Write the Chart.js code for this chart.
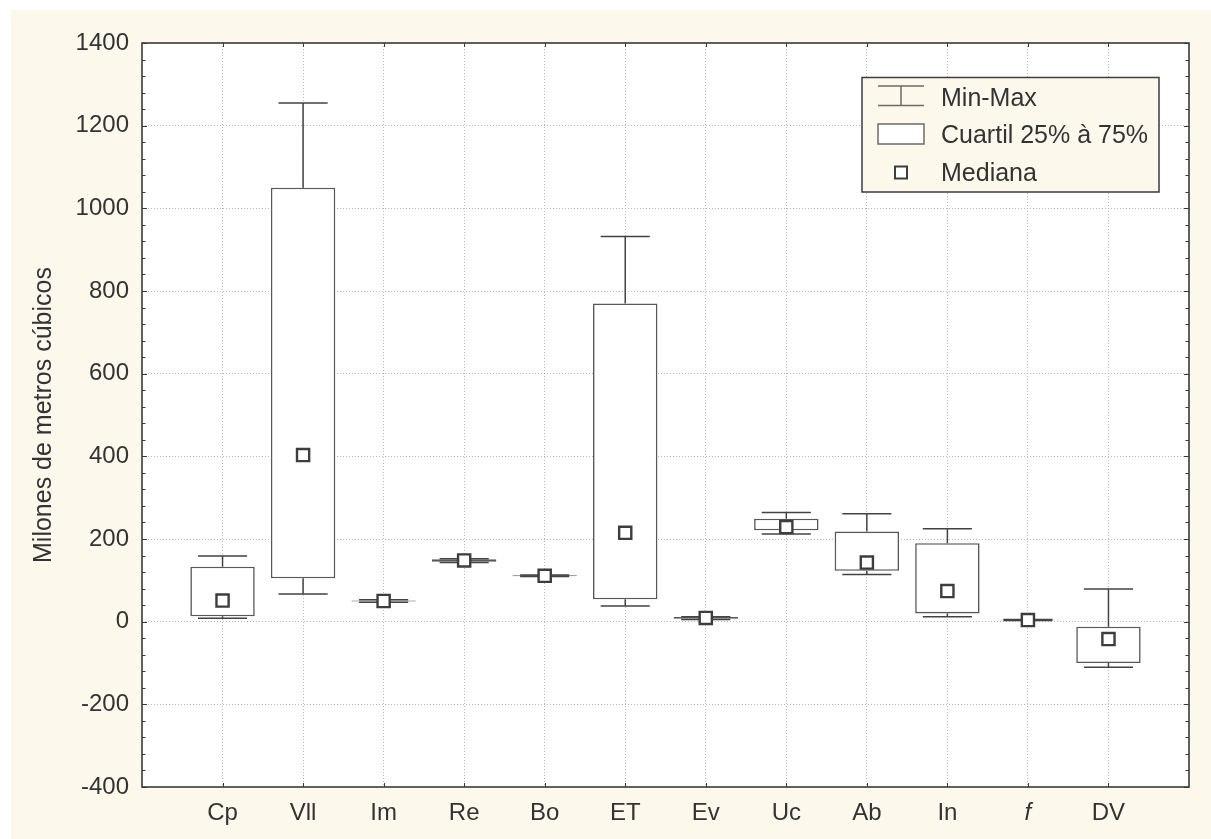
<!DOCTYPE html>
<html>
<head>
<meta charset="utf-8">
<title>Milones de metros cúbicos</title>
<script src="https://cdn.jsdelivr.net/npm/chart.js@4.4.1/dist/chart.umd.min.js"></script>
<style>
  html, body { margin: 0; padding: 0; background: #ffffff; }
  canvas { display: block; }
</style>
</head>
<body>
<canvas id="chart" width="1211" height="839"></canvas>
<script>
// Box-plot summary per component (millions of cubic metres)
const categories   = ['Cp', 'Vll', 'Im', 'Re', 'Bo', 'ET', 'Ev', 'Uc', 'Ab', 'In', 'f', 'DV'];
const minValues    = [8,   67,   47,  143, 109, 38,  5,  212, 114, 12,  3,   -110];
const q1Values     = [13,  105,  49,  145, 110, 54,  7,  221, 123, 20,  3.5, -100];
const medianValues = [51,  403,  50,  148, 111, 215, 9,  229, 143, 74,  4,   -42];
const q3Values     = [133, 1050, 51,  151, 112, 770, 11, 249, 218, 190, 4.5, -12];
const maxValues    = [159, 1255, 53,  152, 113, 932, 12, 264, 261, 225, 5,   79];

const legendLabels = ['Min-Max', 'Cuartil 25% à 75%', 'Mediana'];
const yAxisTitle = 'Milones de metros cúbicos';

const FONT = "'Liberation Sans', Arial, Helvetica, sans-serif";
const INK = '#454242';
const CREAM = '#fdf8ec';
const GRID = '#b9b9b9';

// Page backdrop, cream panel and white plotting area
const backdrop = {
  id: 'backdrop',
  beforeDraw(chart) {
    const { ctx, chartArea: a, width, height } = chart;
    ctx.save();
    ctx.fillStyle = '#ffffff';
    ctx.fillRect(0, 0, width, height);
    ctx.fillStyle = CREAM;
    ctx.fillRect(11, 10, width - 11, height - 10);
    ctx.fillStyle = '#ffffff';
    ctx.fillRect(a.left, a.top, a.right - a.left, a.bottom - a.top);
    ctx.restore();
  }
};

// Min-Max whiskers with end caps, drawn under the quartile boxes
const whiskers = {
  id: 'whiskers',
  beforeDatasetsDraw(chart) {
    const { ctx, scales: { x, y } } = chart;
    ctx.save();
    ctx.strokeStyle = INK;
    ctx.lineWidth = 1.5;
    categories.forEach((c, i) => {
      const xc = x.getPixelForValue(i);
      const half = x.getPixelForValue(i + 0.305) - xc;
      const yMin = y.getPixelForValue(minValues[i]);
      const yMax = y.getPixelForValue(maxValues[i]);
      const yQ1 = y.getPixelForValue(q1Values[i]);
      const yQ3 = y.getPixelForValue(q3Values[i]);
      ctx.beginPath();
      ctx.moveTo(xc, yMax); ctx.lineTo(xc, yQ3);
      ctx.moveTo(xc, yQ1); ctx.lineTo(xc, yMin);
      ctx.moveTo(xc - half, yMax); ctx.lineTo(xc + half, yMax);
      ctx.moveTo(xc - half, yMin); ctx.lineTo(xc + half, yMin);
      ctx.stroke();
    });
    ctx.restore();
  }
};

// Plot frame with inward tick marks on all four sides
const frame = {
  id: 'frame',
  afterDatasetsDraw(chart) {
    const { ctx, chartArea: a, scales: { x, y } } = chart;
    ctx.save();
    ctx.strokeStyle = '#3a3a3a';
    ctx.lineWidth = 1;
    ctx.beginPath();
    for (let v = y.min; v <= y.max; v += 40) {
      const py = Math.round(y.getPixelForValue(v)) + 0.5;
      const len = (v % 200 === 0) ? 5 : 3.5;
      ctx.moveTo(a.left, py); ctx.lineTo(a.left + len, py);
      ctx.moveTo(a.right, py); ctx.lineTo(a.right - len, py);
    }
    categories.forEach((c, i) => {
      const px = Math.round(x.getPixelForValue(i)) + 0.5;
      ctx.moveTo(px, a.bottom); ctx.lineTo(px, a.bottom - 4);
      ctx.moveTo(px, a.top); ctx.lineTo(px, a.top + 4);
    });
    ctx.stroke();
    ctx.lineWidth = 1.6;
    ctx.strokeRect(a.left, a.top, a.right - a.left, a.bottom - a.top);
    ctx.restore();
  }
};

// Key explaining whisker, box and median symbols
const keyBox = {
  id: 'keyBox',
  afterDraw(chart) {
    const { ctx, chartArea: a } = chart;
    const left = a.right - 327, top = a.top + 34.5, w = 297, h = 114.5;
    ctx.save();
    ctx.fillStyle = CREAM;
    ctx.fillRect(left, top, w, h);
    ctx.strokeStyle = '#3d3d3d';
    ctx.lineWidth = 1.5;
    ctx.strokeRect(left, top, w, h);

    const iconL = left + 16, iconR = left + 62, iconC = left + 39;
    ctx.strokeStyle = '#6d6a68';
    ctx.lineWidth = 1.5;
    // whisker icon
    ctx.beginPath();
    ctx.moveTo(iconL, top + 8.5); ctx.lineTo(iconR, top + 8.5);
    ctx.moveTo(iconL, top + 28); ctx.lineTo(iconR, top + 28);
    ctx.moveTo(iconC, top + 8.5); ctx.lineTo(iconC, top + 28);
    ctx.stroke();
    // quartile box icon
    ctx.fillStyle = '#ffffff';
    ctx.fillRect(iconL, top + 46.5, iconR - iconL, 20);
    ctx.strokeRect(iconL, top + 46.5, iconR - iconL, 20);
    // median icon
    ctx.strokeStyle = '#3d3d3d';
    ctx.lineWidth = 2;
    ctx.fillRect(iconC - 6, top + 89, 12, 12);
    ctx.strokeRect(iconC - 6, top + 89, 12, 12);

    ctx.fillStyle = '#333333';
    ctx.font = '25px ' + FONT;
    ctx.textBaseline = 'alphabetic';
    ctx.textAlign = 'left';
    ctx.fillText(legendLabels[0], left + 79, top + 28);
    ctx.fillText(legendLabels[1], left + 79, top + 65.5);
    ctx.fillText(legendLabels[2], left + 79, top + 103.5);
    ctx.restore();
  }
};

new Chart(document.getElementById('chart'), {
  type: 'bar',
  data: {
    datasets: [
      {
        type: 'scatter',
        label: 'Mediana',
        data: categories.map((c, i) => ({ x: i, y: medianValues[i] })),
        pointStyle: 'rect',
        pointRadius: 8.6,
        pointBorderWidth: 2.4,
        pointBorderColor: '#3f3c3c',
        pointBackgroundColor: '#ffffff',
        order: 0
      },
      {
        type: 'bar',
        label: 'Cuartil 25% à 75%',
        data: categories.map((c, i) => ({ x: i, y: [q1Values[i], q3Values[i]] })),
        backgroundColor: '#ffffff',
        borderColor: '#5a5757',
        borderWidth: 1.6,
        borderSkipped: false,
        categoryPercentage: 1,
        barPercentage: 0.8,
        order: 1
      }
    ]
  },
  options: {
    responsive: false,
    animation: false,
    events: [],
    layout: { padding: { top: 43, right: 22, left: 0, bottom: 0 } },
    plugins: { legend: { display: false }, tooltip: { enabled: false } },
    scales: {
      x: {
        type: 'linear',
        min: -1,
        max: 12,
        offset: false,
        afterFit(scale) { scale.height = 52; },
        grid: {
          offset: false,
          drawTicks: false,
          color: (ctx) => (ctx.tick && ctx.tick.value >= 0 && ctx.tick.value < categories.length) ? GRID : 'rgba(0,0,0,0)',
          lineWidth: 1
        },
        border: { display: false, dash: [1, 2] },
        ticks: {
          stepSize: 1,
          autoSkip: false,
          maxRotation: 0,
          padding: 12,
          color: '#333333',
          font: (ctx) => ({
            family: FONT,
            size: 24,
            style: (ctx.tick && categories[ctx.tick.value] === 'f') ? 'italic' : 'normal'
          }),
          callback: (v) => categories[v] !== undefined ? categories[v] : ''
        }
      },
      y: {
        min: -400,
        max: 1400,
        afterFit(scale) { scale.width = 142; },
        grid: {
          drawTicks: false,
          color: (ctx) => (ctx.tick && ctx.tick.value > -400 && ctx.tick.value < 1400) ? GRID : 'rgba(0,0,0,0)',
          lineWidth: 1
        },
        border: { display: false, dash: [1, 2] },
        ticks: {
          stepSize: 200,
          padding: 13,
          color: '#333333',
          font: { family: FONT, size: 24 },
          callback: (v) => String(v)
        },
        title: {
          display: true,
          text: yAxisTitle,
          color: '#333333',
          font: { family: FONT, size: 25 },
          padding: { top: 29, bottom: 0 }
        }
      }
    }
  },
  plugins: [backdrop, whiskers, frame, keyBox]
});
</script>
</body>
</html>
